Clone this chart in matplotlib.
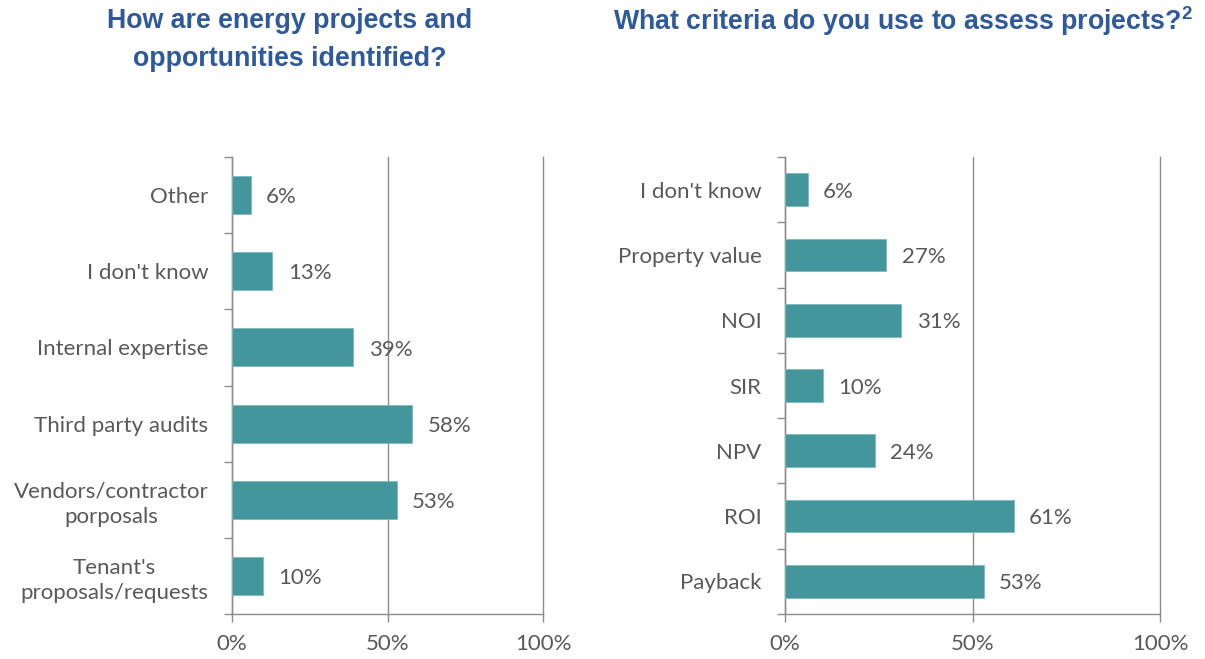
import numpy as np
import matplotlib.pyplot as plt

# left chart data (top to bottom)
left_cats = ["Other", "I don't know", "Internal expertise", "Third party audits",
             "Vendors/contractor\nporposals", "Tenant's\nproposals/requests"]
left_vals = [6, 13, 39, 58, 53, 10]

# right chart data (top to bottom)
right_cats = ["I don't know", "Property value", "NOI", "SIR", "NPV", "ROI", "Payback"]
right_vals = [6, 27, 31, 10, 24, 61, 53]

x_ticks = [0, 50, 100]
x_labels = ["0%", "50%", "100%"]

BAR = '#43969b'
TXT = '#595959'
AXC = '#8c8c8c'
TITLE = '#2e5a9c'

plt.rcParams['font.family'] = ['Lato', 'DejaVu Sans']
plt.rcParams['mathtext.fontset'] = 'custom'
plt.rcParams['mathtext.bf'] = 'Liberation Sans:bold'
plt.rcParams['mathtext.rm'] = 'Liberation Sans:bold'

fig = plt.figure(figsize=(12.05, 6.59), dpi=100)
W, H = 1205, 659
FS = 16


def draw(ax, cats, vals):
    n = len(cats)
    y = np.arange(n)
    ax.barh(y, vals, height=0.5, color=BAR, edgecolor='#7fb9bd', linewidth=0.6, zorder=3)
    for yi, v in zip(y, vals):
        ax.annotate(f"{v}%", (v, yi), xytext=(11, -1.5), textcoords='offset points',
                    va='center', ha='left', fontsize=FS, color=TXT, zorder=4)
    ax.set_ylim(n - 0.5, -0.5)
    ax.set_xlim(0, 100)
    ax.set_yticks(y)
    ax.set_yticklabels(cats)
    ax.set_yticks(np.arange(n + 1) - 0.5, minor=True)
    ax.tick_params(axis='y', which='major', length=0, pad=17, labelsize=FS, labelcolor=TXT)
    ax.tick_params(axis='y', which='minor', length=5.5, width=1, color=AXC)
    for lab in ax.get_yticklabels():
        lab.set_multialignment('center')
        lab.set_linespacing(1.3)
    ax.set_xticks(x_ticks)
    ax.set_xticklabels(x_labels)
    ax.tick_params(axis='x', length=5.5, width=1, color=AXC, pad=9, labelsize=FS, labelcolor=TXT)
    ax.grid(axis='x', color=AXC, linewidth=1, zorder=0)
    for gl in ax.get_xgridlines():
        gl.set_clip_on(False)
    for s in ['top', 'right']:
        ax.spines[s].set_visible(False)
    for s in ['left', 'bottom']:
        ax.spines[s].set_color(AXC)
        ax.spines[s].set_linewidth(1)


bottom = 1 - 614 / H
top = 1 - 157 / H
ax1 = fig.add_axes([232 / W, bottom, (543 - 232) / W, top - bottom])
draw(ax1, left_cats, left_vals)
ax2 = fig.add_axes([785 / W, bottom, (1160 - 785) / W, top - bottom])
draw(ax2, right_cats, right_vals)

fig.text(290 / W, 1 - 8 / H, "How are energy projects and\nopportunities identified?",
         ha='center', va='top', fontsize=19.3, fontweight='bold', color=TITLE,
         family='Liberation Sans', linespacing=1.6)
fig.text(613 / W, 1 - 4 / H, r"What criteria do you use to assess projects?$^{\mathbf{2}}$",
         ha='left', va='top', fontsize=19.3, fontweight='bold', color=TITLE,
         family='Liberation Sans')

fig.savefig('out.png', dpi=100)
